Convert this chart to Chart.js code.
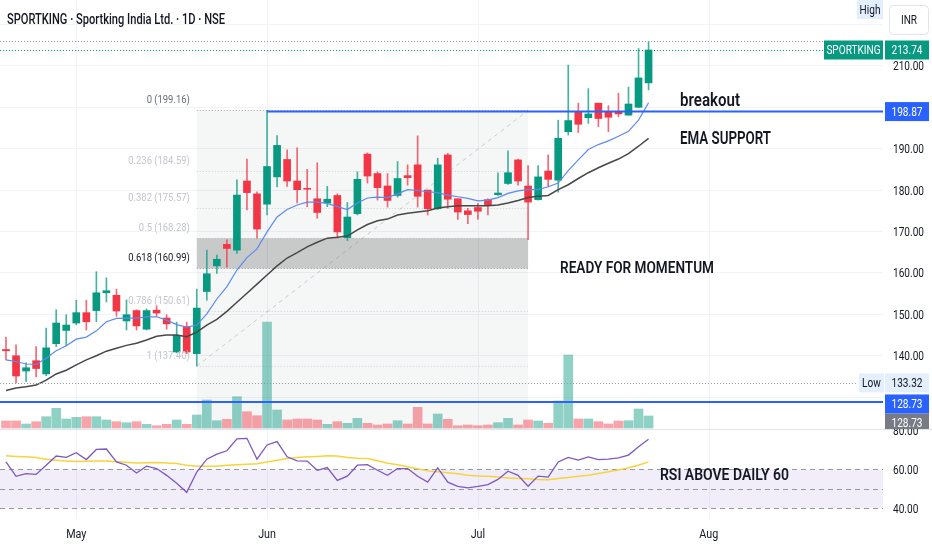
<!DOCTYPE html>
<html>
<head>
<meta charset="utf-8">
<script src="https://cdn.jsdelivr.net/npm/chart.js@4.4.1/dist/chart.umd.min.js"></script>
<style>
    html, body { margin: 0; padding: 0; background: #fff; }
    canvas { display: block; }
</style>
</head>
<body>
<canvas id="chart" width="932" height="550"></canvas>
<script>
// daily bars, SPORTKING (NSE)
const barOpen = [141.4,139.9,136.2,138.7,135.5,142.8,146.0,147.8,150.3,150.8,
    155.1,154.5,148.3,150.8,146.3,150.9,149.0,140.8,146.9,140.4,
    155.4,161.6,166.8,165.4,182.1,179.0,176.5,183.1,187.3,182.1,
    180.3,177.8,176.8,178.6,168.4,174.2,188.6,183.9,180.9,178.6,
    183.4,186.0,179.9,175.4,188.4,177.8,174.9,175.7,177.6,178.8,
    181.5,187.2,180.9,177.6,184.5,182.3,194.0,198.9,197.4,200.9,
    198.9,198.9,198.0,199.9,205.8];
const barHigh = [144.4,142.5,138.2,142.1,146.6,151.0,149.8,153.3,153.3,160.2,
    158.7,156.0,153.4,151.0,151.2,152.0,149.8,148.0,148.0,156.0,
    165.4,164.2,167.9,182.4,187.4,179.5,199.16,193.1,189.6,190.1,
    184.9,186.5,180.8,179.0,176.9,184.3,188.9,184.3,183.9,186.8,
    186.0,193.0,179.9,187.6,188.8,177.8,175.5,176.7,177.8,184.1,
    189.4,187.4,185.8,185.8,188.4,196.8,210.1,200.9,204.4,200.9,
    200.3,203.3,204.8,214.1,215.8];
const barLow = [138.9,133.32,133.6,134.8,135.1,142.1,142.3,147.4,146.1,148.1,
    152.9,149.4,146.1,146.1,146.1,149.4,146.3,140.6,140.4,137.40,
    153.3,159.8,161.3,164.6,175.1,168.3,173.9,180.7,180.8,176.8,
    175.9,173.1,175.9,168.3,167.7,173.9,181.6,177.5,175.8,178.2,
    181.1,175.8,173.9,175.2,175.5,172.8,171.8,172.8,173.9,178.6,
    181.3,181.1,167.9,177.5,180.7,179.4,193.2,193.8,196.0,195.2,
    194.0,197.6,198.0,199.9,204.1];
const barClose = [141.1,135.0,137.0,136.8,141.8,147.8,147.3,150.3,148.1,155.1,
    155.6,150.7,149.8,147.1,150.8,150.2,147.6,144.8,140.8,151.4,
    159.7,163.2,165.8,178.7,179.3,170.5,185.6,190.7,182.1,180.0,
    180.1,174.5,177.7,169.8,173.4,182.5,183.3,180.5,177.4,182.7,
    182.9,178.4,175.4,186.0,177.7,174.6,174.0,174.8,176.2,179.2,
    184.1,182.1,177.0,183.1,182.5,192.4,196.7,195.8,198.3,197.2,
    197.5,198.3,200.7,207.0,213.74];
// volume in thousand shares
const barVolume = [70,70,40,63,113,197,90,107,113,113,
    80,63,53,63,37,23,37,80,37,130,
    280,73,87,313,163,123,1060,180,80,90,
    90,80,37,63,47,97,47,30,40,73,
    40,207,40,140,87,23,30,23,30,53,
    97,30,80,70,47,270,730,90,90,63,
    40,70,73,190,120];
const emaFast = [138.9,138.5,137.9,137.8,139.3,141.1,142.3,143.9,144.4,145.9,
    148.1,148.9,149.0,149.0,149.3,149.3,148.5,147.4,146.8,147.3,
    150.0,153.6,156.6,160.6,163.6,165.7,169.8,173.4,175.2,176.3,
    177.0,177.0,176.7,175.9,175.2,176.8,178.0,178.2,178.1,179.0,
    180.0,179.8,179.5,179.3,178.7,178.3,177.9,177.3,177.5,178.1,
    179.1,179.7,180.0,180.0,180.7,181.6,184.6,187.2,189.7,190.9,
    191.8,192.9,194.1,196.8,201.0];
const emaSlow = [131.5,132.1,132.4,132.8,134.0,135.5,136.4,137.7,138.9,139.9,
    141.0,141.7,142.4,142.9,143.7,144.6,144.9,144.9,144.5,145.6,
    147.3,148.7,150.6,152.8,155.0,157.2,159.4,161.6,163.5,164.8,
    166.2,167.3,168.3,168.5,168.8,170.3,171.6,172.5,172.9,173.9,
    174.3,174.6,174.9,175.6,175.9,176.1,176.1,176.1,176.1,176.3,
    176.8,177.4,178.1,178.4,178.6,180.0,181.2,182.7,184.1,185.3,
    186.4,187.4,188.7,190.5,192.4];
const rsiLine = [63.8,56.4,57.8,57.4,62.1,66.8,66.1,68.5,65.0,70.2,
    70.4,63.8,62.1,58.1,61.6,60.4,56.9,52.9,48.2,58.6,
    65.2,67.8,69.5,75.6,75.9,65.2,72.5,74.2,66.4,64.3,
    64.2,59.5,60.9,54.3,56.5,62.1,62.4,59.5,56.9,60.4,
    60.4,56.4,53.4,60.7,53.4,51.3,50.5,51.2,52.2,54.8,
    59.0,56.9,51.3,56.5,56.0,63.8,66.1,64.7,66.4,65.0,
    65.2,65.9,67.3,71.6,75.4];
const rsiAvg = [66.9,66.6,66.4,66.0,65.2,64.7,64.3,64.0,64.1,64.2,
    64.3,63.9,63.6,63.3,63.4,63.5,63.2,63.0,62.1,61.6,
    61.6,61.6,62.1,62.4,62.6,62.9,63.8,64.7,65.5,66.0,
    66.4,66.6,66.9,66.8,66.1,65.7,65.5,64.4,63.1,62.3,
    61.3,60.3,59.2,58.7,58.2,57.7,56.9,56.6,56.4,56.0,
    55.6,55.3,55.1,54.8,54.7,55.3,55.8,56.4,57.0,57.8,
    58.7,59.7,60.8,62.1,63.8];

const monthLabels = ['May', 'Jun', 'Jul', 'Aug'];
const monthBars = [7, 26, 47, 70];
const gridPrices = [220, 210, 200, 190, 180, 170, 160, 150, 140, 130];
const axisPrices = [210, 190, 180, 170, 160, 150, 140];
const rsiTicks = [80, 60, 40];
const rsiBands = [60, 50, 40];
const fibRatios = ['0', '0.236', '0.382', '0.5', '0.618', '0.786', '1'];
const fibPrices = [199.16, 184.59, 175.57, 168.28, 160.99, 150.61, 137.40];
const fibStartBar = 19, fibEndBar = 52;
const breakoutLevel = 198.87, breakoutBar = 26;
const supportLevel = 128.73;

const UP = '#089981', DOWN = '#f23645', BLUE = '#2962ff';
const FONT = 'Roboto, "Liberation Sans", sans-serif';
const PANE_SPLIT = 429;

function isUp(i) { return barClose[i] >= barOpen[i]; }

function drawText(ctx, s, x, y, o) {
    o = o || {};
    ctx.save();
    ctx.font = o.font || ('12px ' + FONT);
    ctx.fillStyle = o.color || '#131722';
    ctx.textBaseline = 'middle';
    ctx.textAlign = 'left';
    var w = ctx.measureText(s).width;
    var sx = o.width ? o.width / w : (o.sx || 0.84);
    var dw = w * sx;
    var x0 = o.align === 'right' ? x - dw : (o.align === 'center' ? x - dw / 2 : x);
    ctx.translate(x0, y);
    ctx.scale(sx, 1);
    ctx.fillText(s, 0, 0);
    ctx.restore();
}

function hline(ctx, x1, x2, y) {
    ctx.beginPath();
    ctx.moveTo(x1, y);
    ctx.lineTo(x2, y);
    ctx.stroke();
}

function tag(ctx, s, x1, x2, yc, fill, color) {
    ctx.fillStyle = fill;
    ctx.fillRect(x1, yc - 9.5, x2 - x1, 19);
    drawText(ctx, s, (x1 + x2) / 2, yc + 1, { align: 'center', color: color });
}

const tvDecor = {
    id: 'tvDecor',
    beforeDraw(chart) {
        const ctx = chart.ctx;
        ctx.save();
        ctx.fillStyle = '#fff';
        ctx.fillRect(0, 0, chart.width, chart.height);
        ctx.restore();
    },
    beforeDatasetsDraw(chart) {
        const ctx = chart.ctx, a = chart.chartArea;
        const sx = chart.scales.x, sp = chart.scales.yP, sr = chart.scales.yR;
        ctx.save();
        ctx.lineWidth = 1;
        ctx.strokeStyle = '#f0f3fa';
        gridPrices.forEach(function(p) {
            var y = Math.round(sp.getPixelForValue(p)) + 0.5;
            if (y < PANE_SPLIT) hline(ctx, a.left, a.right, y);
        });
        monthBars.forEach(function(b) {
            var x = Math.round(sx.getPixelForValue(b)) + 0.5;
            ctx.beginPath();
            ctx.moveTo(x, a.top);
            ctx.lineTo(x, a.bottom);
            ctx.stroke();
        });

        // fib retracement box
        var fx1 = sx.getPixelForValue(fibStartBar), fx2 = sx.getPixelForValue(fibEndBar);
        var fTop = sp.getPixelForValue(fibPrices[0]);
        ctx.fillStyle = 'rgba(120,123,134,0.07)';
        ctx.fillRect(fx1, fTop, fx2 - fx1, PANE_SPLIT - fTop);
        var z1 = sp.getPixelForValue(fibPrices[3]), z2 = sp.getPixelForValue(fibPrices[4]);
        ctx.fillStyle = 'rgba(0,0,0,0.18)';
        ctx.fillRect(fx1, z1, fx2 - fx1, z2 - z1);
        ctx.setLineDash([1, 2]);
        fibPrices.forEach(function(p, k) {
            ctx.strokeStyle = (k === 0 || k === 4) ? 'rgba(100,100,110,0.6)' : 'rgba(120,123,134,0.3)';
            hline(ctx, fx1, fx2, Math.round(sp.getPixelForValue(p)) + 0.5);
        });

        // rsi band
        var r1 = sr.getPixelForValue(rsiBands[0]), r2 = sr.getPixelForValue(rsiBands[2]);
        ctx.fillStyle = 'rgba(126,87,194,0.1)';
        ctx.fillRect(a.left, r1, a.right - a.left, r2 - r1);
        ctx.setLineDash([5, 4]);
        ctx.strokeStyle = '#9598a1';
        rsiBands.forEach(function(v) {
            hline(ctx, a.left, a.right, Math.round(sr.getPixelForValue(v)) + 0.5);
        });
        ctx.setLineDash([]);
        ctx.strokeStyle = '#e0e3eb';
        hline(ctx, 0, chart.width, PANE_SPLIT + 0.5);
        ctx.restore();
    },
    afterDatasetsDraw(chart) {
        const ctx = chart.ctx, a = chart.chartArea;
        const sx = chart.scales.x, sp = chart.scales.yP, sr = chart.scales.yR;
        const last = barClose.length - 1;
        var fx1 = sx.getPixelForValue(fibStartBar), fx2 = sx.getPixelForValue(fibEndBar);
        ctx.save();

        // fib trend line
        ctx.setLineDash([4, 4]);
        ctx.lineWidth = 1;
        ctx.strokeStyle = 'rgba(120,123,134,0.35)';
        ctx.beginPath();
        ctx.moveTo(fx1, sp.getPixelForValue(fibPrices[6]));
        ctx.lineTo(fx2, sp.getPixelForValue(fibPrices[0]));
        ctx.stroke();

        // high / last / low price lines
        ctx.setLineDash([1, 2]);
        ctx.strokeStyle = '#9598a1';
        hline(ctx, a.left, a.right, Math.round(sp.getPixelForValue(Math.max.apply(null, barHigh))) + 0.5);
        hline(ctx, a.left, 858, Math.round(sp.getPixelForValue(Math.min.apply(null, barLow))) + 0.5);
        ctx.strokeStyle = UP;
        hline(ctx, a.left, a.right, Math.round(sp.getPixelForValue(barClose[last])) + 0.5);

        // horizontal levels
        ctx.setLineDash([]);
        ctx.lineWidth = 2;
        ctx.strokeStyle = BLUE;
        hline(ctx, sx.getPixelForValue(breakoutBar), a.right, sp.getPixelForValue(breakoutLevel));
        hline(ctx, a.left, a.right, sp.getPixelForValue(supportLevel));

        // fib labels
        fibPrices.forEach(function(p, k) {
            var c = k === 0 ? '#6a6d78' : (k === 4 ? '#131722' : '#c3c5cc');
            drawText(ctx, fibRatios[k] + ' (' + p.toFixed(2) + ')', fx1 - 7, sp.getPixelForValue(p) - 10,
                { align: 'right', font: '11.5px ' + FONT, color: c, sx: 0.82 });
        });

        // notes
        var note = '600 18px ' + FONT;
        drawText(ctx, 'breakout', 680, 101, { font: note, width: 60 });
        drawText(ctx, 'EMA SUPPORT', 680, 139, { font: note, width: 91 });
        drawText(ctx, 'READY FOR MOMENTUM', 560, 269, { font: '600 16px ' + FONT, width: 154 });
        drawText(ctx, 'RSI ABOVE DAILY 60', 660, 476, { font: '600 17px ' + FONT, width: 129 });

        // title
        drawText(ctx, 'SPORTKING · Sportking India Ltd. · 1D · NSE', 7, 20, { font: '500 14px ' + FONT, width: 218 });

        // price axis
        axisPrices.forEach(function(p) {
            drawText(ctx, p.toFixed(2), 893, sp.getPixelForValue(p) + 2);
        });
        rsiTicks.forEach(function(v) {
            drawText(ctx, v.toFixed(2), 893, sr.getPixelForValue(v) + 2);
        });

        var yLast = sp.getPixelForValue(barClose[last]);
        tag(ctx, 'SPORTKING', 824, 883, yLast, UP, '#fff');
        tag(ctx, barClose[last].toFixed(2), 885, 929, yLast, UP, '#fff');
        tag(ctx, breakoutLevel.toFixed(2), 885, 929, sp.getPixelForValue(breakoutLevel), BLUE, '#fff');
        var ySup = sp.getPixelForValue(supportLevel) + 2;
        ctx.save();
        ctx.beginPath();
        ctx.rect(0, 0, chart.width, PANE_SPLIT);
        ctx.clip();
        tag(ctx, supportLevel.toFixed(2), 885, 929, ySup + 19, '#787b86', '#fff');
        ctx.restore();
        tag(ctx, supportLevel.toFixed(2), 885, 929, ySup, BLUE, '#fff');
        var yLow = sp.getPixelForValue(Math.min.apply(null, barLow));
        tag(ctx, 'Low', 859, 884, yLow, '#e3effd', '#131722');
        tag(ctx, Math.min.apply(null, barLow).toFixed(2), 885, 929, yLow, '#e3effd', '#131722');
        tag(ctx, 'High', 857, 883, 9.5, '#e3effd', '#131722');

        ctx.fillStyle = '#fff';
        ctx.strokeStyle = '#e0e3eb';
        ctx.lineWidth = 1;
        ctx.beginPath();
        ctx.roundRect(889.5, 5.5, 39, 29, 4);
        ctx.fill();
        ctx.stroke();
        drawText(ctx, 'INR', 909, 21, { align: 'center' });

        // time axis
        monthLabels.forEach(function(m, k) {
            drawText(ctx, m, sx.getPixelForValue(monthBars[k]), 535, { align: 'center', font: '12.5px ' + FONT, sx: 0.86 });
        });
        ctx.restore();
    }
};

const idx = barClose.map(function(c, i) { return i; });

new Chart(document.getElementById('chart'), {
    type: 'bar',
    data: {
        datasets: [
            {
                type: 'line',
                data: idx.map(function(i) { return { x: i, y: rsiAvg[i] }; }),
                yAxisID: 'yR',
                borderColor: '#f7d33c',
                borderWidth: 1.5,
                pointRadius: 0,
                order: 1
            },
            {
                type: 'line',
                data: idx.map(function(i) { return { x: i, y: rsiLine[i] }; }),
                yAxisID: 'yR',
                borderColor: '#7e57c2',
                borderWidth: 1.3,
                pointRadius: 0,
                order: 0
            },
            {
                type: 'line',
                data: idx.map(function(i) { return { x: i, y: emaSlow[i] }; }),
                yAxisID: 'yP',
                borderColor: '#474747',
                borderWidth: 1.5,
                pointRadius: 0,
                order: 2
            },
            {
                type: 'line',
                data: idx.map(function(i) { return { x: i, y: emaFast[i] }; }),
                yAxisID: 'yP',
                borderColor: '#5d8af2',
                borderWidth: 1.2,
                pointRadius: 0,
                order: 1
            },
            {
                data: idx.map(function(i) { return { x: i, y: [barOpen[i], barClose[i]] }; }),
                yAxisID: 'yP',
                backgroundColor: idx.map(function(i) { return isUp(i) ? UP : DOWN; }),
                barThickness: 7,
                minBarLength: 1,
                grouped: false,
                borderSkipped: false,
                order: 3
            },
            {
                data: idx.map(function(i) { return { x: i, y: [barLow[i], barHigh[i]] }; }),
                yAxisID: 'yP',
                backgroundColor: idx.map(function(i) { return isUp(i) ? 'rgba(8,153,129,0.75)' : 'rgba(242,54,69,0.75)'; }),
                barThickness: 1,
                grouped: false,
                borderSkipped: false,
                order: 4
            },
            {
                data: idx.map(function(i) { return { x: i, y: barVolume[i] }; }),
                yAxisID: 'yV',
                backgroundColor: idx.map(function(i) { return isUp(i) ? 'rgba(8,153,129,0.45)' : 'rgba(242,54,69,0.45)'; }),
                barThickness: 9,
                grouped: false,
                order: 5
            }
        ]
    },
    options: {
        responsive: false,
        animation: false,
        events: [],
        layout: { padding: { left: 0, top: 0, right: 49, bottom: 32 } },
        plugins: {
            legend: { display: false },
            tooltip: { enabled: false }
        },
        scales: {
            x: { type: 'linear', min: -0.598, max: 87.35, offset: false, display: false },
            yP: { type: 'linear', position: 'left', min: 100.70, max: 225.82, display: false },
            yV: { type: 'linear', position: 'left', min: -900, max: 4280, display: false },
            yR: { type: 'linear', position: 'left', min: 35.03, max: 300.7, display: false }
        }
    },
    plugins: [tvDecor]
});
</script>
</body>
</html>
